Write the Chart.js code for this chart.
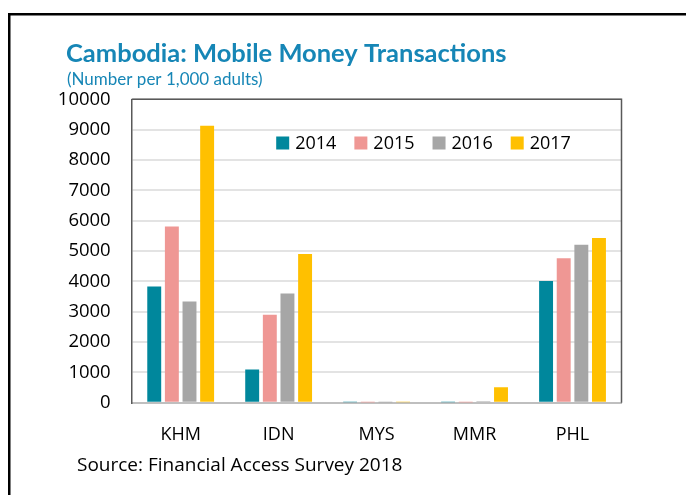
<!DOCTYPE html>
<html>
<head>
<meta charset="utf-8">
<script src="https://cdn.jsdelivr.net/npm/chart.js@4/dist/chart.umd.min.js"></script>
<style>
  html, body { margin: 0; padding: 0; background: #fff; }
  #wrap { position: relative; width: 686px; height: 495px; }
  canvas { display: block; }
</style>
</head>
<body>
<div id="wrap"><canvas id="c" width="686" height="495"></canvas></div>
<script>
const categories = ["KHM", "IDN", "MYS", "MMR", "PHL"];
const seriesNames = ["2014", "2015", "2016", "2017"];
const values2014 = [3830, 1094, 15, 15, 4010];
const values2015 = [5806, 2900, 10, 10, 4760];
const values2016 = [3336, 3600, 8, 45, 5210];
const values2017 = [9130, 4900, 12, 510, 5430];
const colors = ["#00879C", "#EF9794", "#A6A6A6", "#FFC000"];
const yTicks = [0, 1000, 2000, 3000, 4000, 5000, 6000, 7000, 8000, 9000, 10000];
const titleText = "Cambodia: Mobile Money Transactions";
const subtitleText = "(Number per 1,000 adults)";
const sourceText = "Source: Financial Access Survey 2018";

const allSeries = [values2014, values2015, values2016, values2017];

const decor = {
  id: 'decor',
  beforeDraw(chart) {
    const ctx = chart.ctx;
    ctx.save();
    ctx.fillStyle = '#fff';
    ctx.fillRect(0, 0, chart.width, chart.height);
    ctx.fillStyle = '#000';
    ctx.fillRect(8, 13, chart.width - 8, 2.5);
    ctx.fillRect(8, 13, 2.5, chart.height - 13);
    // title and subtitle
    ctx.fillStyle = '#1686B6';
    ctx.textBaseline = 'alphabetic';
    ctx.font = 'bold 25.5px Lato';
    ctx.fillText(titleText, 66, 62);
    ctx.font = '17px Lato';
    ctx.fillText(subtitleText, 67, 85);
    ctx.restore();
  },
  afterDraw(chart) {
    const ctx = chart.ctx;
    const a = chart.chartArea;
    ctx.save();
    // top and right frame of plot area
    ctx.strokeStyle = '#595959';
    ctx.lineWidth = 1.5;
    ctx.beginPath();
    ctx.moveTo(a.left, a.top);
    ctx.lineTo(a.right, a.top);
    ctx.lineTo(a.right, a.bottom);
    ctx.stroke();
    // legend inside plot area
    ctx.font = '18px "Open Sans"';
    ctx.textBaseline = 'middle';
    let x = a.left + 144.5;
    const y = 143;
    chart.data.datasets.forEach(ds => {
      ctx.fillStyle = ds.backgroundColor;
      ctx.fillRect(x, y - 6.5, 13, 13);
      ctx.fillStyle = '#000';
      ctx.fillText(ds.label, x + 19, y + 1);
      x += 19 + ctx.measureText(ds.label).width + 18;
    });
    // source note
    ctx.font = '19px "Open Sans"';
    ctx.fillStyle = '#000';
    ctx.textBaseline = 'middle';
    ctx.fillText(sourceText, 77, 466);
    ctx.restore();
  }
};

new Chart(document.getElementById('c'), {
  type: 'bar',
  data: {
    labels: categories,
    datasets: seriesNames.map((name, i) => ({
      label: name,
      data: allSeries[i],
      backgroundColor: colors[i],
      borderWidth: 0,
      categoryPercentage: 0.72,
      barPercentage: 0.79
    }))
  },
  options: {
    responsive: false,
    animation: false,
    layout: { padding: { top: 99.3, left: 40, right: 64.5, bottom: 47.3 } },
    plugins: {
      legend: { display: false },
      tooltip: { enabled: false },
      title: { display: false },
      subtitle: { display: false }
    },
    scales: {
      x: {
        grid: { display: false, drawTicks: false },
        border: { display: true, color: '#BFBFBF', width: 2 },
        afterFit(scale) { scale.height = 45; },
        ticks: { color: '#000', font: { family: 'Open Sans', size: 18 }, padding: 21, maxRotation: 0 }
      },
      y: {
        min: 0,
        max: 10000,
        afterBuildTicks(scale) { scale.ticks = yTicks.map(v => ({ value: v })); },
        afterFit(scale) { scale.width = 91.7; },
        grid: { color: '#E3E3E3', lineWidth: 2, drawTicks: false },
        border: { display: true, color: '#595959', width: 1.5 },
        ticks: { color: '#000', font: { family: 'Open Sans', size: 18.5 }, padding: 21, callback: v => String(v) }
      }
    }
  },
  plugins: [decor]
});
</script>
</body>
</html>
